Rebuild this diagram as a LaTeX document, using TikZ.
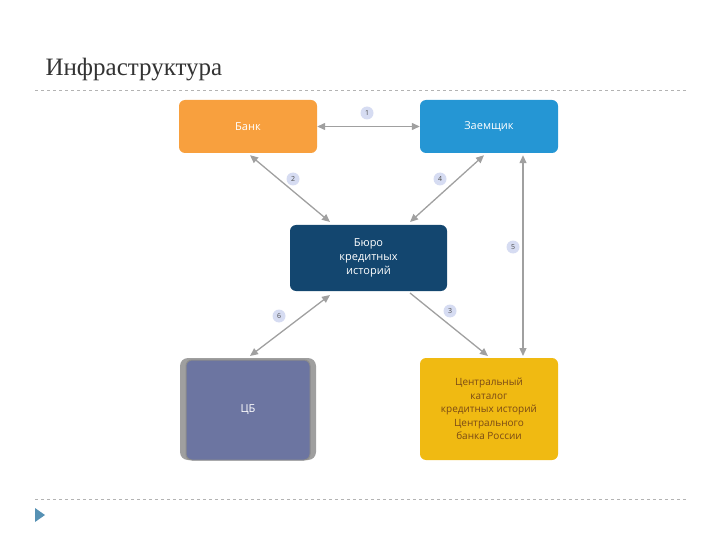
\documentclass[tikz,border=0pt]{standalone}
\usepackage{fontspec}
\setmainfont{Liberation Serif}
\newfontfamily\boxfont{Open Sans}
\usetikzlibrary{arrows.meta}
\definecolor{cOr}{HTML}{F8A03E}
\definecolor{cBl}{HTML}{2596D4}
\definecolor{cNv}{HTML}{13466F}
\definecolor{cSl}{HTML}{6C75A1}
\definecolor{cYe}{HTML}{F0BA12}
\definecolor{cYt}{HTML}{7A4A16}
\definecolor{cLn}{HTML}{A0A0A0}
\definecolor{cNum}{HTML}{D6DCF2}
\tikzset{
 box/.style={rounded corners=6pt,minimum width=138pt,align=center,font=\boxfont\fontsize{11}{14}\selectfont,text=white},
 conn/.style={draw=cLn,line width=1.3pt,{Triangle[length=8pt,width=7pt]}-{Triangle[length=8pt,width=7pt]}},
 num/.style={circle,fill=cNum,inner sep=0pt,minimum size=13pt,font=\boxfont\fontsize{7}{8}\selectfont,text=black!70}
}
\begin{document}
\begin{tikzpicture}[x=1pt,y=-1pt]
\useasboundingbox (0,0) rectangle (720,540);
\node[anchor=west,font=\fontsize{25}{28}\selectfont,text=black!80] (title) at (42,70) {Инфраструктура};
\draw[cLn!80,dashed] (35,90) coordinate (l1) -- (688,90) coordinate (l2);
\draw[cLn!80,dashed] (35,499) coordinate (l3) -- (688,499) coordinate (l4);
\fill[cSl!80!cyan] (35,508) -- (45,515) -- (35,522) -- cycle;
\node[box,fill=cOr,minimum height=53pt] (bank) at (248,126.5) {Банк};
\node[box,fill=cBl,minimum height=53pt] (zaem) at (489,126.5) {Заемщик};
\node[box,fill=cNv,minimum width=157pt,minimum height=66pt] (bki) at (368.5,258) {Бюро\\кредитных\\историй};
\node[fill=gray!75,rounded corners=8pt,minimum width=136pt,minimum height=102pt] (cbbg) at (248,409) {};
\node[box,fill=cSl,draw=black!45,line width=1pt,minimum width=124pt,minimum height=100pt] (cb) at (248,410) {ЦБ};
\node[box,fill=cYe,text=cYt,minimum height=102pt,font=\boxfont\fontsize{10}{13.5}\selectfont] (cat) at (489,409) {Центральный\\каталог\\кредитных историй\\Центрального\\банка России};
\draw[conn] (bank.east) -- (zaem.west);
\draw[conn] (bank.south) ++(2,2) coordinate (a2) -- (330,222) coordinate (b2);
\draw[conn] (zaem.south) ++(-5,2) coordinate (a4) -- (410,222) coordinate (b4);
\draw[conn] (zaem.south) ++(34,2) coordinate (a5) -- (523,356) coordinate (b5);
\draw[draw=cLn,line width=1.3pt,-{Triangle[length=8pt,width=7pt]}] (410,293) coordinate (a3) -- (488,356) coordinate (b3);
\draw[conn] (330,295) coordinate (a6) -- (250,356) coordinate (b6);
\node[num] (n1) at (367,113) {1};
\node[num] (n2) at (293,179) {2};
\node[num] (n4) at (440,179) {4};
\node[num] (n5) at (513,247) {5};
\node[num] (n3) at (450,311) {3};
\node[num] (n6) at (279,316) {6};
\end{tikzpicture}
\end{document}
